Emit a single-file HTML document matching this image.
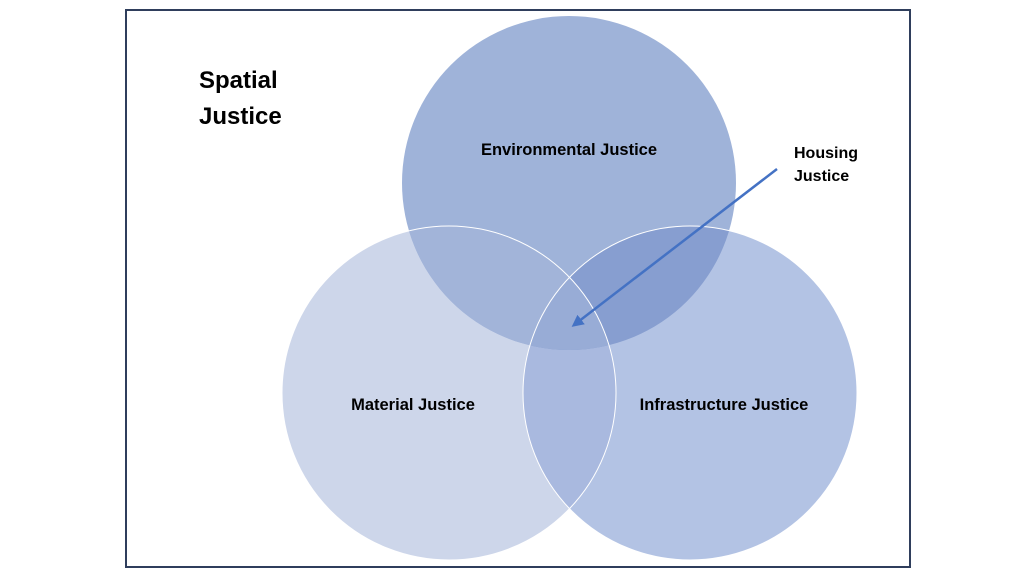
<!DOCTYPE html>
<html><head><style>html,body{margin:0;padding:0;background:#fff;}svg{display:block}</style></head>
<body>
<svg width="1024" height="576" viewBox="0 0 1024 576" xmlns="http://www.w3.org/2000/svg" font-family="Liberation Sans, sans-serif" font-weight="bold">
<defs>
<clipPath id="cL"><circle cx="449" cy="393" r="167"/></clipPath>
<clipPath id="cR"><circle cx="690" cy="393" r="167"/></clipPath>
<clipPath id="cT"><circle cx="569" cy="183" r="167"/></clipPath>
<marker id="ah" markerWidth="12" markerHeight="12" refX="9" refY="6" orient="auto" markerUnits="userSpaceOnUse"><path d="M0,0 L12,6 L0,12 z" fill="#4472C4"/></marker>
</defs>
<rect x="126" y="10" width="784" height="557" fill="#fff" stroke="#2F3E5C" stroke-width="2"/>
<circle cx="449" cy="393" r="167" fill="#CDD6EA"/>
<circle cx="690" cy="393" r="167" fill="#B3C3E4"/>
<circle cx="690" cy="393" r="167" fill="#A9B9DF" clip-path="url(#cL)"/>
<circle cx="569" cy="183" r="167" fill="#9FB3D9"/>
<circle cx="569" cy="183" r="167" fill="#A2B4D9" clip-path="url(#cL)"/>
<circle cx="569" cy="183" r="167" fill="#879ED0" clip-path="url(#cR)"/>
<g clip-path="url(#cL)"><circle cx="569" cy="183" r="167" fill="#98ACD6" clip-path="url(#cR)"/></g>
<circle cx="449" cy="393" r="167" fill="none" stroke="#fff" stroke-width="1"/>
<circle cx="690" cy="393" r="167" fill="none" stroke="#fff" stroke-width="1"/>
<line x1="777" y1="169" x2="574" y2="325" stroke="#4472C4" stroke-width="2.5" marker-end="url(#ah)"/>
<text x="199" y="88" font-size="24" fill="#000">Spatial</text>
<text x="199" y="124" font-size="24" fill="#000">Justice</text>
<g font-size="16.5" fill="#000">
<text x="569" y="155" text-anchor="middle">Environmental Justice</text>
<text x="413" y="410" text-anchor="middle">Material Justice</text>
<text x="724" y="410" text-anchor="middle">Infrastructure Justice</text>
<text x="794" y="158" font-size="16">Housing</text>
<text x="794" y="181" font-size="16">Justice</text>
</g>
</svg>
</body></html>
